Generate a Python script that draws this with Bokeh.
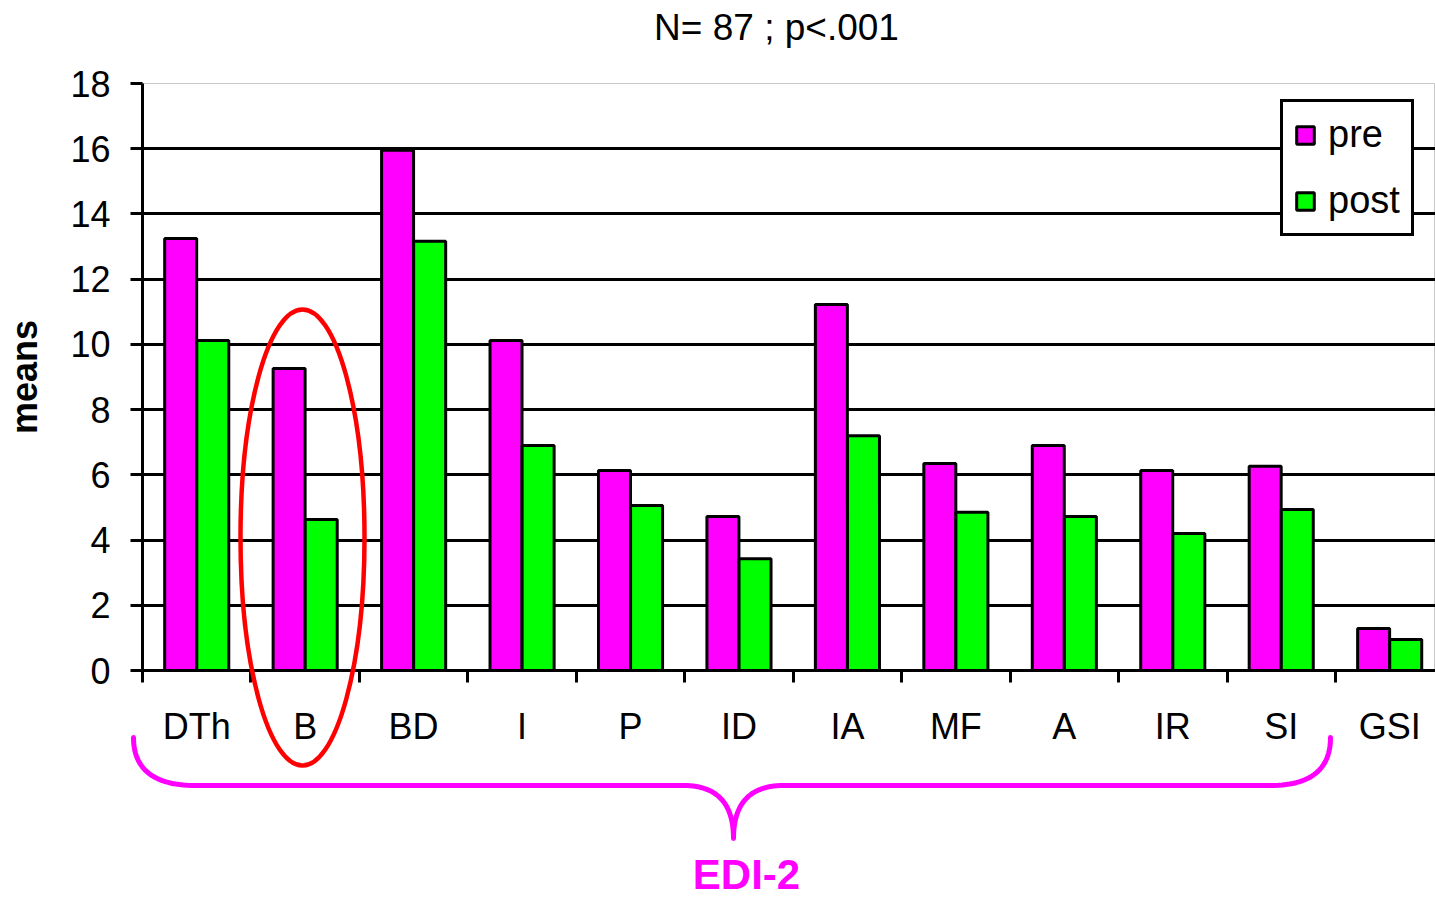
import numpy as np
from bokeh.plotting import figure
from bokeh.models import (ColumnDataSource, Range1d, FixedTicker, Legend, LegendItem)
from bokeh.core.properties import value
from bokeh.transform import dodge
from bokeh.embed import file_html
from bokeh.resources import INLINE

categories = ["DTh", "B", "BD", "I", "P", "ID", "IA", "MF", "A", "IR", "SI", "GSI"]
pre = [13.25, 9.26, 15.95, 10.12, 6.13, 4.72, 11.22, 6.35, 6.9, 6.13, 6.26, 1.29]
post = [10.12, 4.63, 13.16, 6.9, 5.06, 3.43, 7.2, 4.85, 4.72, 4.2, 4.94, 0.95]
y_ticks = [0, 2, 4, 6, 8, 10, 12, 14, 16, 18]
title_text = "N= 87 ; p<.001"
group_label = "EDI-2"

FONT = "Liberation Sans"
MAGENTA = "#FF00FF"
GREEN = "#00FF00"

# frame geometry (pixels)
FL, FR, FT, FB = 142, 1435, 83, 670
CAT_PX = 108.45  # one category slot in pixels (plot is cropped at the right)
X_END = (FR - FL) / CAT_PX

centers = [i + 0.5 for i in range(len(categories))]
src = ColumnDataSource(dict(x=centers, pre=pre, post=post, cat=categories))

p = figure(width=1435, height=899, output_backend="svg", toolbar_location=None,
           x_range=Range1d(0, X_END), y_range=Range1d(0, 18),
           min_border_left=FL, min_border_right=0, min_border_top=FT,
           min_border_bottom=899 - FB)
p.background_fill_color = "white"
p.border_fill_color = "white"
p.outline_line_color = "#c8c8c8"
p.outline_line_width = 1

r_pre = p.vbar(x=dodge("x", -0.148), top="pre", width=0.295, source=src,
               fill_color=MAGENTA, line_color="black", line_width=3)
r_post = p.vbar(x=dodge("x", 0.148), top="post", width=0.295, source=src,
                fill_color=GREEN, line_color="black", line_width=3)

# grid
p.xgrid.visible = False
p.ygrid.ticker = FixedTicker(ticks=y_ticks[1:-1])
p.ygrid.grid_line_color = "black"
p.ygrid.grid_line_width = 3

# y axis
yax = p.yaxis[0]
yax.ticker = FixedTicker(ticks=y_ticks)
yax.axis_line_width = 3
yax.axis_line_color = "black"
yax.major_tick_line_width = 3
yax.major_tick_line_color = "black"
yax.major_tick_out = 12
yax.major_tick_in = 0
yax.minor_tick_line_color = None
yax.major_label_text_font = FONT
yax.major_label_text_font_size = "36px"
yax.major_label_text_color = "black"
yax.major_label_standoff = 20
yax.axis_label = "means"
yax.axis_label_text_font = FONT
yax.axis_label_text_font_size = "36px"
yax.axis_label_text_font_style = "bold"
yax.axis_label_text_color = "black"
yax.axis_label_standoff = 22

# x axis
xax = p.xaxis[0]
xax.ticker = FixedTicker(ticks=centers, minor_ticks=list(range(len(categories) + 1)))
xax.major_label_overrides = {c: lab for c, lab in zip(centers, categories)}
xax.axis_line_width = 3
xax.axis_line_color = "black"
xax.major_tick_line_color = None
xax.major_tick_out = 0
xax.major_tick_in = 0
xax.minor_tick_line_color = "black"
xax.minor_tick_line_width = 3
xax.minor_tick_out = 12
xax.minor_tick_in = 0
xax.major_label_text_font = FONT
xax.major_label_text_font_size = "36px"
xax.major_label_text_color = "black"
xax.major_label_standoff = 23

# legend
legend = Legend(items=[LegendItem(label="pre", renderers=[r_pre]),
                       LegendItem(label="post", renderers=[r_post])],
                location=(1280 - FL, FB - 236))
legend.label_text_font = FONT
legend.label_text_font_size = "38px"
legend.label_text_color = "black"
legend.glyph_width = 22
legend.glyph_height = 22
legend.label_height = 40
legend.spacing = 23
legend.padding = 11
legend.label_standoff = 12
legend.border_line_color = "black"
legend.border_line_alpha = 1
legend.border_line_width = 3
legend.background_fill_alpha = 1
p.add_layout(legend)

# pixel -> data helpers for the hand-drawn annotations
def dx(px):
    return (px - FL) / CAT_PX

def dy(py):
    return (FB - py) / ((FB - FT) / 18.0)

# title above the frame
p.text(x=[dx(776)], y=[dy(27)], text=[title_text], text_align="center",
       text_baseline="middle", text_font=value(FONT), text_font_size="37px",
       text_color="black", level="overlay")

# red ellipse around B
p.ellipse(x=dx(302), y=dy(537), width=dx(364) - dx(240), height=dy(309) - dy(765),
          fill_alpha=0, line_color="#FF0000", line_width=4.5, level="overlay")

# brace under the EDI-2 subscales
def quad(p0, c, p1, n=30):
    t = np.linspace(0, 1, n)
    x = (1 - t) ** 2 * p0[0] + 2 * (1 - t) * t * c[0] + t ** 2 * p1[0]
    y = (1 - t) ** 2 * p0[1] + 2 * (1 - t) * t * c[1] + t ** 2 * p1[1]
    return list(x), list(y)

segs = [quad((133, 737), (133, 785), (195, 785)),
        quad((683, 785), (733, 785), (733, 838)),
        quad((733, 838), (733, 785), (783, 785)),
        quad((1270, 785), (1330, 785), (1330, 737))]
bx, by = [], []
for sx, sy in segs:
    bx += sx
    by += sy
p.line(x=[dx(v) for v in bx], y=[dy(v) for v in by], line_color=MAGENTA,
       line_width=5, line_cap="round", line_join="round", level="overlay")

p.text(x=[dx(746)], y=[dy(874)], text=[group_label], text_align="center",
       text_baseline="middle", text_font=value(FONT), text_font_size="42px",
       text_font_style="bold", text_color=MAGENTA, level="overlay")

open("out.html", "w").write(file_html(p, INLINE))
